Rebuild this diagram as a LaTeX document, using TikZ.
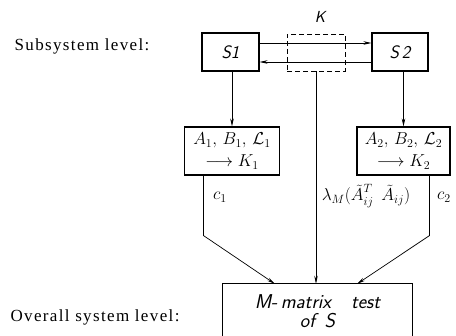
\documentclass[tikz,border=0pt]{standalone}
\usepackage{fontspec}
\newfontfamily\lblfont[LetterSpace=8]{Liberation Serif}
\usetikzlibrary{arrows.meta,calc}
\begin{document}
\begin{tikzpicture}[x=1pt,y=-1pt,
  box/.style={draw, line width=1.1pt, inner sep=0pt},
  conn/.style={line width=0.7pt},
  arr/.style={conn, -{Stealth[length=8pt,width=3.5pt]}},
  hand/.style={font=\sffamily\itshape\fontsize{18}{20}\selectfont},
  big/.style={font=\sffamily\itshape\fontsize{20}{19}\selectfont},
  mth/.style={font=\fontsize{17}{18}\selectfont},
  lvl/.style={font=\lblfont\fontsize{17}{18}\selectfont}]
\useasboundingbox (0,0) rectangle (456,336);
% subsystem level
\node[box, minimum width=57pt, minimum height=38pt, hand] (S1) at (230.5,52) {S1};
\node[box, minimum width=56pt, minimum height=38pt, hand] (S2) at (400,52) {S\,2};
\node[draw, line width=0.7pt, dash pattern=on 5pt off 3pt, minimum width=58pt, minimum height=37pt] (K) at (316,52.5) {};
\node[font=\sffamily\itshape\fontsize{16}{18}\selectfont] (Klab) at (320,17) {K};
\draw[arr] ($(S1.east)+(0,-9)$) -- ($(S2.west)+(0,-9)$);
\draw[arr] ($(S2.west)+(0,10)$) -- ($(S1.east)+(0,10)$);
% local boxes
\node[box, minimum width=95pt, minimum height=48pt, mth, align=center] (A1) at (232,151)
  {$A_1,\,B_1,\,\mathcal{L}_1$\\[4pt]$\longrightarrow K_1$};
\node[box, minimum width=93pt, minimum height=48pt, mth, align=center] (A2) at (403.5,151)
  {$A_2,\,B_2,\,\mathcal{L}_2$\\[4pt]$\longrightarrow K_2$};
\draw[arr] (S1.south -| A1.north) -- (A1.north);
\draw[arr] (S2.south -| A2.north) -- (A2.north);
% overall box
\node[minimum width=189pt, minimum height=54pt, inner sep=0pt, big, align=center] (M) at (317.5,311)
  {M-\,matrix\quad test\\of\, S};
\draw[line width=1.1pt] (M.south west) -- (M.north west) -- (M.north east) -- (M.south east);
\draw[arr] (K.south) -- (K.south |- M.north);
\draw[arr] ($(A1.south west)+(19.5,0)$) -- ++(0,60) -- ($(M.north west)+(52,0)$);
\draw[arr] ($(A2.south east)+(-21,0)$) -- ++(0,60) -- ($(M.north east)+(-55,0)$);
% labels
\node[mth] (c1) at (220,197) {$c_1$};
\node[mth] (lam) at (366,196) {$\lambda_M(\tilde{A}^{\raisebox{2pt}{$\scriptstyle T$}}_{ij}\;\,\tilde{A}_{ij})$};
\node[mth] (c2) at (444,197) {$c_2$};
\node[lvl] (sub) at (82,46) {Subsystem level:};
\node[lvl] (ovr) at (95,317) {Overall system level:};
\end{tikzpicture}
\end{document}
